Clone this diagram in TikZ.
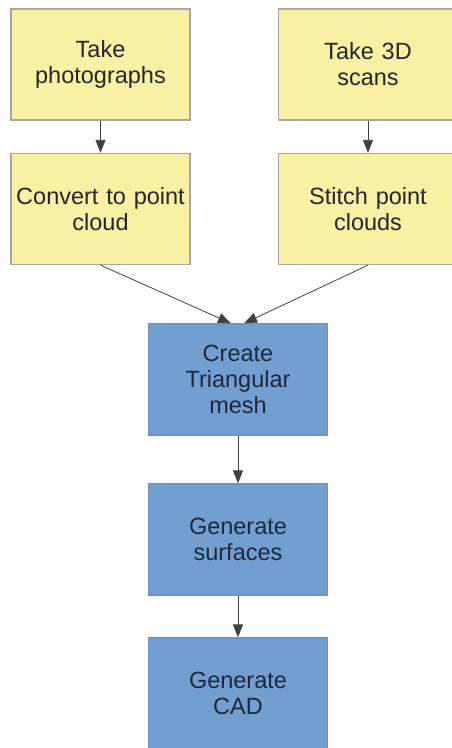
\documentclass[tikz,border=0pt]{standalone}
\usepackage{fontspec}
\setmainfont{Liberation Sans}
\usetikzlibrary{arrows.meta}
\definecolor{stepyellow}{HTML}{F8F0A2}
\definecolor{stepblue}{HTML}{729FCF}
\definecolor{blueline}{HTML}{6C95C4}
\definecolor{bluetext}{HTML}{1C2840}
\begin{document}
\begin{tikzpicture}[
            x = 1pt, y = -1pt,
            > = {Triangle[length=13pt,width=10pt]},
 flow/.style = {->, line width=0.8pt, draw=black!75},
 task/.style = {draw, line width=1.3pt, minimum width=179pt, minimum height=111pt,
                text width=170pt, align=center, inner sep=0pt,
                font=\fontsize{23.5}{26}\selectfont},
 yellowbox/.style = {task, fill=stepyellow, draw=black!35, text=black!85},
 bluebox/.style   = {task, fill=stepblue, draw=blueline, text=bluetext}
                        ]
\useasboundingbox (0,0) rectangle (451,748);
% scanning routes
    \node[yellowbox] (photo)   at (100.5,64.5) {Take\\photographs};
    \node[yellowbox] (scan)    at (368,64.5)   {Take 3D\\scans};
    \node[yellowbox] (convert) at (100.5,209)  {Convert to point\\cloud};
    \node[yellowbox] (stitch)  at (368,209)    {Stitch point\\clouds};
% common steps
    \node[bluebox] (mesh)    at (238,379.5) {Create\\Triangular\\mesh};
    \node[bluebox] (surface) at (238,539.5) {Generate\\surfaces};
    \node[bluebox] (cad)     at (238,693.5) {Generate\\CAD};
% arrows
    \draw[flow] (photo) -- (convert);
    \draw[flow] (scan) -- (stitch);
    \draw[flow] (convert.south) -- ([xshift=-7pt]mesh.north);
    \draw[flow] (stitch.south) -- ([xshift=6pt]mesh.north);
    \draw[flow] (mesh) -- (surface);
    \draw[flow] (surface) -- (cad);
\end{tikzpicture}
\end{document}
